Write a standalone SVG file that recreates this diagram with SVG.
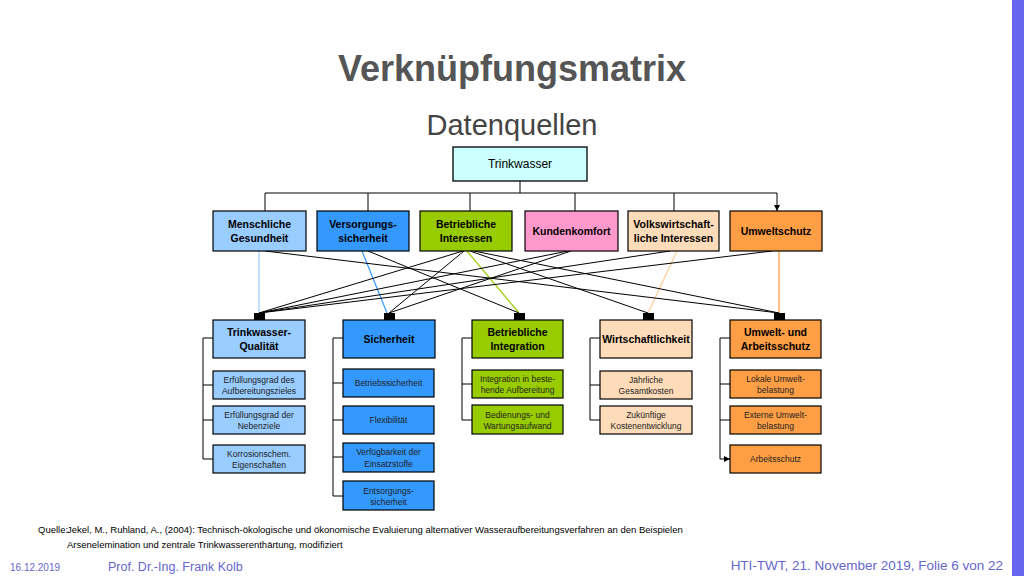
<svg xmlns="http://www.w3.org/2000/svg" width="1024" height="576" viewBox="0 0 1024 576">
<style>
text{font-family:"Liberation Sans",Arial,sans-serif}
.b{stroke:#000;stroke-width:1.3}
.n{stroke:#000;stroke-width:1.2}
.t{font-size:10.5px;font-weight:bold;text-anchor:middle}
.s{font-size:8.5px;text-anchor:middle;fill:#222}
.l{stroke:#000;stroke-width:1;fill:none}
.q{fill:#000}
</style>
<defs>
<marker id="a" markerWidth="8" markerHeight="8" refX="6" refY="4" orient="auto" markerUnits="userSpaceOnUse"><path d="M0,1 L6,4 L0,7Z" fill="#000"/></marker>
</defs>
<rect width="1024" height="576" fill="#fff"/>
<rect x="1012" y="0" width="12" height="576" fill="#6666ee"/>
<text x="512" y="81" font-size="36" font-weight="bold" fill="#555" text-anchor="middle">Verknüpfungsmatrix</text>
<text x="512" y="135" font-size="29" fill="#444" text-anchor="middle">Datenquellen</text>

<g id="connectors">
<path class="l" d="M520,181V193M265,193H777"/>
<path class="l" marker-end="url(#a)" d="M265,193V211M368,193V211M470,193V211M575,193V211M674,193V211M777,193V211"/>
<line x1="259" y1="251" x2="259" y2="313" stroke="#99ccff" stroke-width="1.2"/>
<line x1="362" y1="251" x2="387" y2="313" stroke="#3399ff" stroke-width="1.2"/>
<line x1="467" y1="251" x2="519" y2="313" stroke="#99cc00" stroke-width="1.2"/>
<line x1="677" y1="251" x2="648" y2="313" stroke="#ffcc99" stroke-width="1.2"/>
<line x1="779" y1="251" x2="779" y2="313" stroke="#ff9933" stroke-width="1.2"/>
<g class="l">
<line x1="265" y1="251" x2="779" y2="313"/>
<line x1="368" y1="251" x2="519" y2="313"/>
<line x1="463" y1="251" x2="259" y2="313"/>
<line x1="464" y1="251" x2="389" y2="313"/>
<line x1="470" y1="251" x2="648" y2="313"/>
<line x1="474" y1="251" x2="779" y2="313"/>
<line x1="568" y1="251" x2="259" y2="313"/>
<line x1="571" y1="251" x2="389" y2="313"/>
<line x1="670" y1="251" x2="259" y2="313"/>
<line x1="772" y1="251" x2="259" y2="313"/>
</g>
<g class="q">
<rect x="254" y="313" width="11" height="10"/><rect x="384" y="313" width="11" height="10"/><rect x="514" y="313" width="11" height="10"/><rect x="643" y="313" width="11" height="10"/><rect x="774" y="313" width="11" height="10"/>
</g>
<path class="l" d="M213,338H203V459M343,338H333V496M472,338H462V420M600,338H590V420M730,338H720V459"/>
<path class="l" marker-end="url(#a)" d="M203,385H213M203,420H213M203,459H213M333,383H343M333,420H343M333,457H343M333,496H343M462,384H472M462,420H472M590,385H600M590,420H600M720,384H730M720,420H730M720,459H730"/>
</g>

<g id="trinkwasser"><rect x="453" y="147" width="134" height="34" fill="#ccffff" class="b"/><text x="520" y="168" font-size="12" text-anchor="middle">Trinkwasser</text></g>
<g id="menschliche"><rect x="213" y="211" width="93" height="40" fill="#99ccff" class="n"/><text class="t" x="259.5" y="228">Menschliche</text><text class="t" x="259.5" y="242">Gesundheit</text></g>
<g id="versorgung"><rect x="317" y="211" width="92" height="40" fill="#3399ff" class="n"/><text class="t" x="363" y="228">Versorgungs-</text><text class="t" x="363" y="242">sicherheit</text></g>
<g id="betrieb"><rect x="420" y="211" width="92" height="40" fill="#99cc00" class="n"/><text class="t" x="466" y="228">Betriebliche</text><text class="t" x="466" y="242">Interessen</text></g>
<g id="kunden"><rect x="525" y="211" width="93" height="40" fill="#ff99cc" class="n"/><text class="t" x="571.5" y="235">Kundenkomfort</text></g>
<g id="volks"><rect x="628" y="211" width="91" height="40" fill="#ffdcb9" class="n"/><text class="t" x="673.5" y="228">Volkswirtschaft-</text><text class="t" x="673.5" y="242">liche Interessen</text></g>
<g id="umweltschutz"><rect x="730" y="211" width="92" height="40" fill="#ff9f45" class="n"/><text class="t" x="776" y="235">Umweltschutz</text></g>

<g id="twq"><rect x="213" y="320" width="92" height="38" fill="#99ccff" class="n"/><text class="t" x="259" y="336">Trinkwasser-</text><text class="t" x="259" y="350">Qualität</text></g>
<g id="sich"><rect x="343" y="320" width="92" height="38" fill="#3399ff" class="n"/><text class="t" x="389" y="343">Sicherheit</text></g>
<g id="integ"><rect x="472" y="320" width="91" height="38" fill="#99cc00" class="n"/><text class="t" x="517.5" y="336">Betriebliche</text><text class="t" x="517.5" y="350">Integration</text></g>
<g id="wirt"><rect x="600" y="320" width="92" height="38" fill="#ffdcb9" class="n"/><text class="t" x="646" y="343">Wirtschaftlichkeit</text></g>
<g id="umarb"><rect x="730" y="320" width="91" height="38" fill="#ff9f45" class="n"/><text class="t" x="775.5" y="336">Umwelt- und</text><text class="t" x="775.5" y="350">Arbeitsschutz</text></g>

<g id="s1"><rect x="213" y="371" width="92" height="28" fill="#99ccff" class="n"/><text class="s" x="259" y="383">Erfüllungsgrad des</text><text class="s" x="259" y="394">Aufbereitungszieles</text></g>
<g id="s2"><rect x="213" y="406" width="92" height="28" fill="#99ccff" class="n"/><text class="s" x="259" y="418">Erfüllungsgrad der</text><text class="s" x="259" y="429">Nebenziele</text></g>
<g id="s3"><rect x="213" y="445" width="92" height="28" fill="#99ccff" class="n"/><text class="s" x="259" y="457">Korrosionschem.</text><text class="s" x="259" y="468">Eigenschaften</text></g>
<g id="s4"><rect x="343" y="369" width="91" height="28" fill="#3399ff" class="n"/><text class="s" x="388.5" y="386">Betriebssicherheit</text></g>
<g id="s5"><rect x="343" y="406" width="91" height="28" fill="#3399ff" class="n"/><text class="s" x="388.5" y="423">Flexibilität</text></g>
<g id="s6"><rect x="343" y="443" width="91" height="29" fill="#3399ff" class="n"/><text class="s" x="388.5" y="455">Verfügbarkeit der</text><text class="s" x="388.5" y="467">Einsatzstoffe</text></g>
<g id="s7"><rect x="343" y="481" width="91" height="29" fill="#3399ff" class="n"/><text class="s" x="388.5" y="494">Entsorgungs-</text><text class="s" x="388.5" y="505">sicherheit</text></g>
<g id="s8"><rect x="472" y="370" width="91" height="28" fill="#99cc00" class="n"/><text class="s" x="517.5" y="382">Integration in beste-</text><text class="s" x="517.5" y="393">hende Aufbereitung</text></g>
<g id="s9"><rect x="472" y="405" width="91" height="29" fill="#99cc00" class="n"/><text class="s" x="517.5" y="418">Bedienungs- und</text><text class="s" x="517.5" y="429">Wartungsaufwand</text></g>
<g id="s10"><rect x="600" y="371" width="92" height="28" fill="#ffdcb9" class="n"/><text class="s" x="646" y="383">Jährliche</text><text class="s" x="646" y="394">Gesamtkosten</text></g>
<g id="s11"><rect x="600" y="406" width="92" height="28" fill="#ffdcb9" class="n"/><text class="s" x="646" y="418">Zukünftige</text><text class="s" x="646" y="429">Kostenentwicklung</text></g>
<g id="s12"><rect x="730" y="370" width="91" height="28" fill="#ff9f45" class="n"/><text class="s" x="775.5" y="382">Lokale Umwelt-</text><text class="s" x="775.5" y="393">belastung</text></g>
<g id="s13"><rect x="730" y="406" width="91" height="28" fill="#ff9f45" class="n"/><text class="s" x="775.5" y="418">Externe Umwelt-</text><text class="s" x="775.5" y="429">belastung</text></g>
<g id="s14"><rect x="730" y="445" width="91" height="28" fill="#ff9f45" class="n"/><text class="s" x="775.5" y="462">Arbeitsschutz</text></g>

<text x="38" y="533" font-size="9.5">Quelle:</text>
<text x="67" y="533" font-size="9.5">Jekel, M., Ruhland, A., (2004): Technisch-ökologische und ökonomische Evaluierung alternativer Wasseraufbereitungsverfahren an den Beispielen</text>
<text x="67" y="548" font-size="9.5">Arsenelemination und zentrale Trinkwasserenthärtung, modifiziert</text>
<text x="10" y="571" font-size="10" fill="#6666cc">16.12.2019</text>
<text x="108" y="571" font-size="12.5" fill="#6666cc">Prof. Dr.-Ing. Frank Kolb</text>
<text x="1003" y="570" font-size="13.5" fill="#6666cc" text-anchor="end">HTI-TWT, 21. November 2019, Folie 6 von 22</text>
</svg>
